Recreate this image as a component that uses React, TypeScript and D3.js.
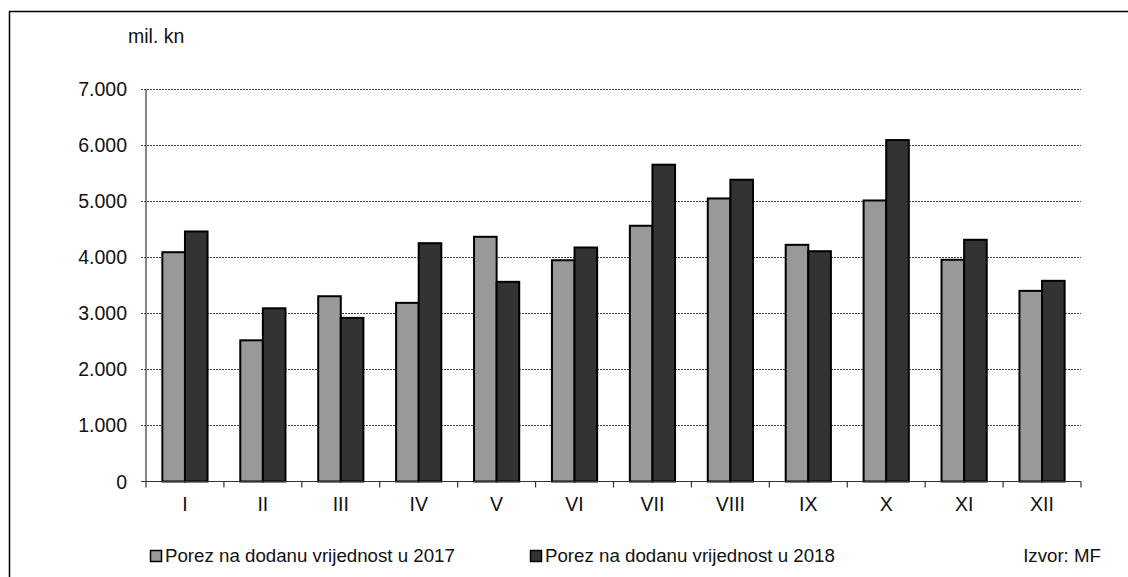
import React, { useEffect, useRef } from 'react'
import * as d3 from 'd3'

const months = ['I', 'II', 'III', 'IV', 'V', 'VI', 'VII', 'VIII', 'IX', 'X', 'XI', 'XII']
const vat2017 = [4089, 2518, 3304, 3186, 4364, 3946, 4561, 5048, 4221, 5012, 3954, 3400]
const vat2018 = [4459, 3089, 2918, 4250, 3561, 4173, 5650, 5382, 4107, 6089, 4311, 3579]
const seriesNames = ['Porez na dodanu vrijednost u 2017', 'Porez na dodanu vrijednost u 2018']
const yTicks = [0, 1000, 2000, 3000, 4000, 5000, 6000, 7000]

export default function App() {
    const ref = useRef<SVGSVGElement | null>(null)

    const width = 1128
    const height = 577
    const font = "'Liberation Sans', Arial, sans-serif"

    function drawChart() {
        var svg = d3.select(ref.current)
        svg.selectAll('*').remove()

        // outer frame (only top and left visible)
        svg.append('rect')
            .attr('x', 9.5).attr('y', 11.5)
            .attr('width', 1200).attr('height', 700)
            .attr('fill', 'none')
            .attr('stroke', '#000')
            .attr('stroke-width', 1.5)

        var left = 146, right = 1081, top = 89, bottom = 481.5

        var y = d3.scaleLinear().domain([0, 7000]).range([bottom, top])
        var x0 = d3.scaleBand().domain(months).range([left, right]).paddingInner(0.42).paddingOuter(0.21)
        var x1 = d3.scaleBand().domain(['a', 'b']).range([0, x0.bandwidth()])

        var fmt = (v: number) => v === 0 ? '0' : d3.format(',')(v).replace(/,/g, '.')

        // gridlines
        svg.append('g').selectAll('line')
            .data(yTicks.filter(d => d > 0))
            .enter().append('line')
            .attr('x1', left - 5).attr('x2', right)
            .attr('y1', d => Math.round(y(d)) + 0.5)
            .attr('y2', d => Math.round(y(d)) + 0.5)
            .attr('stroke', '#444')
            .attr('stroke-width', 1)
            .attr('stroke-dasharray', '2,1')

        // y labels
        svg.append('g').selectAll('text')
            .data(yTicks)
            .enter().append('text')
            .attr('x', 127)
            .attr('y', d => y(d) + 7)
            .attr('text-anchor', 'end')
            .attr('font-family', font)
            .attr('font-size', 19.5)
            .attr('fill', '#111')
            .text(d => fmt(d))

        svg.append('text')
            .attr('x', 128).attr('y', 43)
            .attr('font-family', font)
            .attr('font-size', 19.5)
            .attr('fill', '#111')
            .text('mil. kn')

        // bars
        var series = [vat2017, vat2018]
        var fills = ['#999999', '#333333']
        var g = svg.append('g')
        months.forEach((m, i) => {
            series.forEach((s, j) => {
                g.append('rect')
                    .attr('x', (x0(m) as number) + (x1(j === 0 ? 'a' : 'b') as number))
                    .attr('y', y(s[i]))
                    .attr('width', x1.bandwidth())
                    .attr('height', bottom - y(s[i]))
                    .attr('fill', fills[j])
                    .attr('stroke', '#000')
                    .attr('stroke-width', 2)
            })
        })

        // axes
        svg.append('line')
            .attr('x1', left).attr('x2', left)
            .attr('y1', top).attr('y2', bottom)
            .attr('stroke', '#333').attr('stroke-width', 1.2)
        svg.append('line')
            .attr('x1', left - 5).attr('x2', right)
            .attr('y1', bottom).attr('y2', bottom)
            .attr('stroke', '#333').attr('stroke-width', 1.2)
        var boundaries = months.map(m => (x0(m) as number) - x0.step() * 0.21).concat([right])
        svg.append('g').selectAll('line')
            .data(boundaries)
            .enter().append('line')
            .attr('x1', d => d).attr('x2', d => d)
            .attr('y1', bottom).attr('y2', bottom + 6)
            .attr('stroke', '#333').attr('stroke-width', 1.2)

        // x labels
        svg.append('g').selectAll('text')
            .data(months)
            .enter().append('text')
            .attr('x', d => (x0(d) as number) + x0.bandwidth() / 2)
            .attr('y', 511)
            .attr('text-anchor', 'middle')
            .attr('font-family', font)
            .attr('font-size', 19.5)
            .attr('fill', '#111')
            .text(d => d)

        // legend
        var legendX = [150.5, 530.5]
        seriesNames.forEach((name, j) => {
            svg.append('rect')
                .attr('x', legendX[j]).attr('y', 550.5)
                .attr('width', 11).attr('height', 11)
                .attr('fill', fills[j])
                .attr('stroke', '#000')
                .attr('stroke-width', 1.5)
            svg.append('text')
                .attr('x', legendX[j] + 14.5).attr('y', 562)
                .attr('font-family', font)
                .attr('font-size', 18.7)
                .attr('fill', '#111')
                .text(name)
        })

        svg.append('text')
            .attr('x', 1101).attr('y', 562)
            .attr('text-anchor', 'end')
            .attr('font-family', font)
            .attr('font-size', 18.7)
            .attr('fill', '#111')
            .text('Izvor: MF')
    }

    useEffect(() => {
        drawChart()
    }, [])

    return (
        <div>
            <svg ref={ref} width={width} height={height}
                style={{ position: 'absolute', left: 0, top: 0, background: '#fff' }} />
        </div>
    )
}
